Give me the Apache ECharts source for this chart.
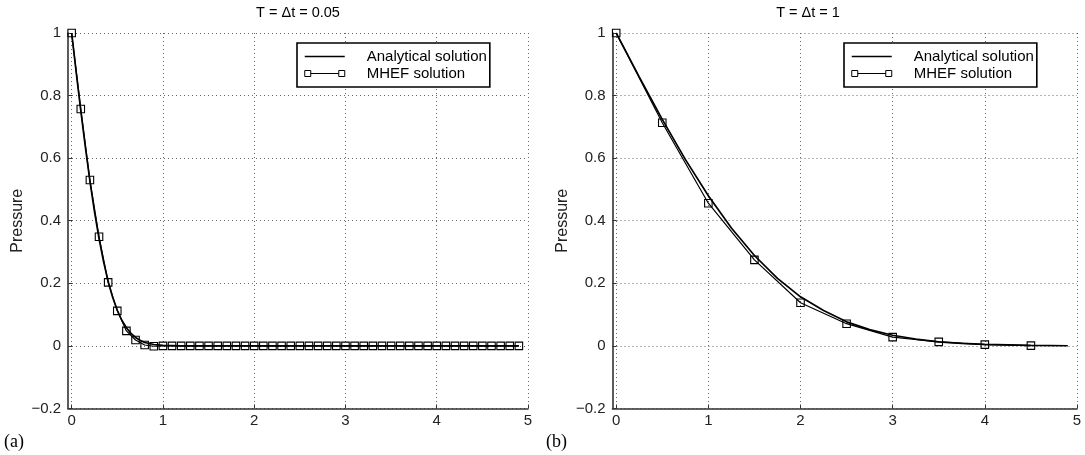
<!DOCTYPE html>
<html>
<head>
<meta charset="utf-8">
<script src="https://cdn.jsdelivr.net/npm/echarts@6/dist/echarts.min.js"></script>
<style>
  html, body { margin: 0; padding: 0; background: #fff; }
  #chart { width: 1085px; height: 455px; }
</style>
</head>
<body>
<div id="chart"></div>
<script>
// Panel (a): T = Δt = 0.05
const aMhefX = [0, 0.1, 0.2, 0.3, 0.4, 0.5, 0.6, 0.7, 0.8, 0.9,
  1.0, 1.1, 1.2, 1.3, 1.4, 1.5, 1.6, 1.7, 1.8, 1.9,
  2.0, 2.1, 2.2, 2.3, 2.4, 2.5, 2.6, 2.7, 2.8, 2.9,
  3.0, 3.1, 3.2, 3.3, 3.4, 3.5, 3.6, 3.7, 3.8, 3.9,
  4.0, 4.1, 4.2, 4.3, 4.4, 4.5, 4.6, 4.7, 4.8, 4.9];
const aMhefP = [1, 0.757, 0.53, 0.349, 0.203, 0.112, 0.048, 0.019, 0.003, -0.001,
  0, 0, 0, 0, 0, 0, 0, 0, 0, 0,
  0, 0, 0, 0, 0, 0, 0, 0, 0, 0,
  0, 0, 0, 0, 0, 0, 0, 0, 0, 0,
  0, 0, 0, 0, 0, 0, 0, 0, 0, 0];
const aExactX = [0, 0.05, 0.1, 0.15, 0.2, 0.25, 0.3, 0.35, 0.4, 0.45, 0.5, 0.55,
  0.6, 0.65, 0.7, 0.75, 0.8, 0.9, 1.0, 1.2, 1.5, 2, 3, 4, 4.9];
const aExactP = [1, 0.874, 0.752, 0.636, 0.527, 0.429, 0.343, 0.269, 0.206, 0.155, 0.114, 0.082,
  0.058, 0.040, 0.027, 0.018, 0.011, 0.0045, 0.0016, 0.0001, 0, 0, 0, 0, 0];

// Panel (b): T = Δt = 1
const bMhefX = [0, 0.5, 1, 1.5, 2, 2.5, 3, 3.5, 4, 4.5];
const bMhefP = [1, 0.713, 0.456, 0.275, 0.138, 0.071, 0.028, 0.013, 0.004, 0.001];
const bExactX = [0, 0.25, 0.5, 0.75, 1, 1.25, 1.5, 1.75, 2, 2.25, 2.5, 2.75,
  3, 3.25, 3.5, 3.75, 4, 4.5, 4.9];
const bExactP = [1, 0.860, 0.724, 0.596, 0.480, 0.377, 0.289, 0.216, 0.157, 0.113, 0.077, 0.052,
  0.034, 0.022, 0.013, 0.008, 0.005, 0.0015, 0.0005];

const xTicks = [0, 1, 2, 3, 4, 5];
const titles = ['T = \u0394t = 0.05', 'T = \u0394t = 1'];
const panelTags = ['(a)', '(b)'];
const seriesNames = ['Analytical solution', 'MHEF solution'];

const FONT = 'Liberation Sans, Arial, Helvetica, sans-serif';
const SERIF = 'Liberation Serif, Times New Roman, serif';
const zip = (xs, ys) => xs.map((x, i) => [x, ys[i]]);

const grids = [
  { left: 68, top: 33, width: 460, height: 375.5 },
  { left: 612.5, top: 33, width: 464.5, height: 375.5 }
];

const gridLine = { show: true, lineStyle: { color: '#666', type: [1, 3], width: 1 } };

function xAxis(gi) {
  return {
    type: 'value', gridIndex: gi, min: -0.04, max: 5,
    axisLine: { show: true, onZero: false, lineStyle: { color: '#333', width: 1.6 } },
    axisTick: { show: true, inside: true, length: 4, customValues: xTicks, lineStyle: { color: '#333' } },
    axisLabel: { customValues: xTicks, color: '#222', fontFamily: FONT, fontSize: 15, margin: 5 },
    splitLine: gridLine
  };
}

function yAxis(gi) {
  return {
    type: 'value', gridIndex: gi, min: -0.2, max: 1, interval: 0.2,
    name: 'Pressure', nameLocation: 'middle', nameRotate: 90, nameGap: 42,
    nameTextStyle: { color: '#222', fontFamily: FONT, fontSize: 16 },
    axisLine: { show: true, onZero: false, lineStyle: { color: '#333', width: 1.6 } },
    axisTick: { show: true, inside: true, length: 4, lineStyle: { color: '#333' } },
    axisLabel: {
      color: '#222', fontFamily: FONT, fontSize: 15, margin: 7,
      formatter: v => {
        const r = Math.round(v * 10) / 10;
        return r < 0 ? '\u2212' + String(-r) : String(r);
      }
    },
    splitLine: gridLine
  };
}

function exactSeries(gi, xs, ys) {
  return {
    name: seriesNames[0], type: 'line', xAxisIndex: gi, yAxisIndex: gi,
    data: zip(xs, ys), symbol: 'none', smooth: false, z: 3,
    lineStyle: { color: '#000', width: 1.7 }, itemStyle: { color: '#000' }
  };
}

function mhefSeries(gi, xs, ys) {
  return {
    name: seriesNames[1], type: 'line', xAxisIndex: gi, yAxisIndex: gi,
    data: zip(xs, ys), symbol: 'rect', symbolSize: 7.5, showSymbol: true, z: 4,
    lineStyle: { color: '#000', width: 1.2 },
    itemStyle: { color: 'rgba(255,255,255,0)', borderColor: '#000', borderWidth: 1.1 }
  };
}

function legend(left) {
  return {
    orient: 'vertical', left: left, top: 43,
    padding: [6, 3, 6, 7], itemGap: 2, itemWidth: 40, itemHeight: 14,
    borderColor: '#000', borderWidth: 1.6, backgroundColor: '#fff',
    selectedMode: false,
    textStyle: { color: '#000', fontFamily: FONT, fontSize: 15, padding: [0, 0, 0, 17] },
    data: [
      { name: seriesNames[0], icon: 'path://M0,0 M0,3.5H40 M40,7',
        itemStyle: { color: 'rgba(0,0,0,0)', borderColor: '#000', borderWidth: 1.5 } },
      { name: seriesNames[1], icon: 'path://M0,0h6v6h-6Z M6,3H34 M34,0h6v6h-6Z',
        itemStyle: { color: 'rgba(0,0,0,0)', borderColor: '#000', borderWidth: 1 } }
    ]
  };
}

const chart = echarts.init(document.getElementById('chart'), null, { renderer: 'canvas' });
chart.setOption({
  animation: false,
  backgroundColor: '#fff',
  grid: grids,
  xAxis: [xAxis(0), xAxis(1)],
  yAxis: [yAxis(0), yAxis(1)],
  legend: [legend(297), legend(844)],
  series: [
    exactSeries(0, aExactX, aExactP),
    mhefSeries(0, aMhefX, aMhefP),
    exactSeries(1, bExactX, bExactP),
    mhefSeries(1, bMhefX, bMhefP)
  ],
  graphic: [
    { type: 'text', x: 298, y: 13, style: { text: titles[0], fill: '#000', font: '14.5px ' + FONT, textAlign: 'center', textVerticalAlign: 'middle' } },
    { type: 'text', x: 808, y: 13, style: { text: titles[1], fill: '#000', font: '14.5px ' + FONT, textAlign: 'center', textVerticalAlign: 'middle' } },
    { type: 'text', x: 4, y: 442, style: { text: panelTags[0], fill: '#000', font: '18px ' + SERIF, textAlign: 'left', textVerticalAlign: 'middle' } },
    { type: 'text', x: 546, y: 442, style: { text: panelTags[1], fill: '#000', font: '18px ' + SERIF, textAlign: 'left', textVerticalAlign: 'middle' } }
  ]
});
</script>
</body>
</html>
